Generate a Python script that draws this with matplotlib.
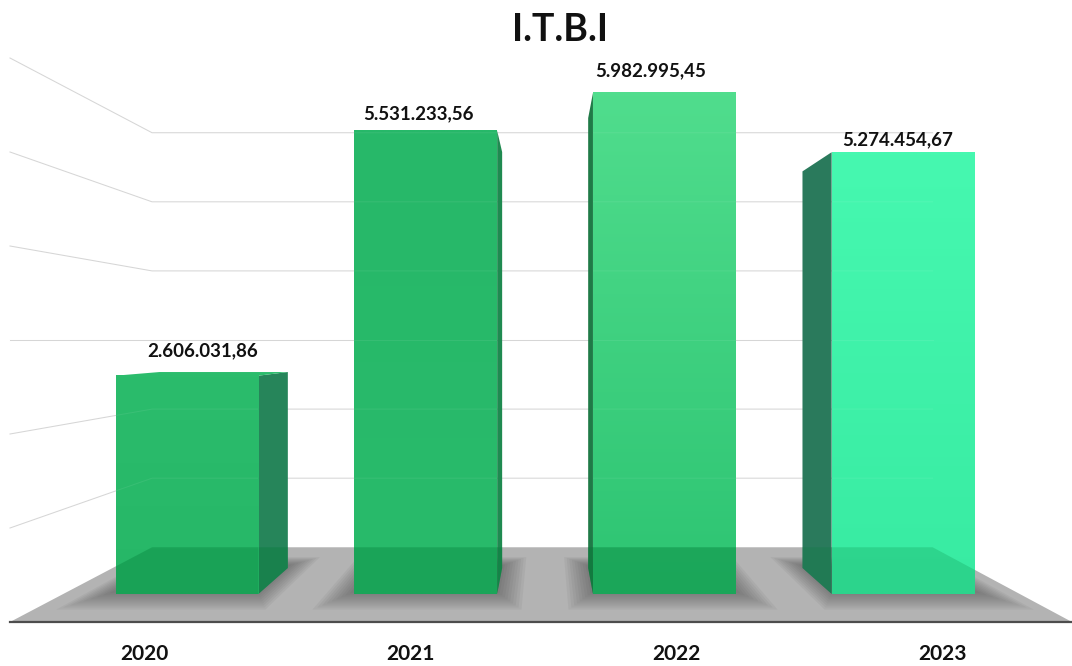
import numpy as np
import matplotlib
matplotlib.use("Agg")
import matplotlib.pyplot as plt
from matplotlib.colors import to_rgb
from matplotlib.patches import Polygon

anos = ["2020", "2021", "2022", "2023"]
valores = [2606031.86, 5531233.56, 5982995.45, 5274454.67]
rotulos = ["2.606.031,86", "5.531.233,56", "5.982.995,45", "5.274.454,67"]
grade = [0, 1000000, 2000000, 3000000, 4000000, 5000000, 6000000]

# cor de cada barra (topo, base, lateral)
cor_topo = ["#2BBC6C", "#27B869", "#50DD8D", "#46F8B0"]
cor_base = ["#26B767", "#29BB6B", "#2DC472", "#38EBA2"]
cor_lado = ["#26855A", "#1F8A50", "#1F7A47", "#2A7A5C"]
alfa_chao = [0.33, 0.33, 0.4, 0.2]
# deslocamento do rotulo em pixels
rot_dx = [16, -7, -14, -5]
rot_dy = [16, 8, 14, 4]

# ponto de fuga em coordenadas do grafico
vx, vy = 1.519, 3000000
esc_fundo = 0.735
esc_frente = 0.891
esc_tras = 0.80
meia = 0.302
sobe = 32000
anda = 0.015
abre = 1.009


def proj(x, v, s):
    return (vx + (x - vx) * s, vy + (v - vy) * s)


plt.rcParams["font.family"] = ["Lato", "DejaVu Sans"]
fig = plt.figure(figsize=(10.72, 6.66), dpi=100)
ax = fig.add_axes([10 / 1072, 44 / 666, 1062 / 1072, 564 / 666])

# linhas da grade: parede esquerda e parede do fundo
for g in grade[1:]:
    p0 = proj(-0.5, g, 1)
    p1 = proj(-0.5, g, esc_fundo)
    p2 = proj(3.5, g, esc_fundo)
    ax.plot([p0[0], p1[0], p2[0]], [p0[1], p1[1], p2[1]], color="#d6d6d6", lw=0.75, zorder=1, clip_on=False)

# chao
chao = [proj(-0.5, 0, 1), proj(3.5, 0, 1), proj(3.5, 0, esc_fundo), proj(-0.5, 0, esc_fundo)]
poly_chao = Polygon(chao, closed=True, facecolor="#b3b3b3", edgecolor="none", zorder=2)
ax.add_patch(poly_chao)

# sombras
for i in range(4):
    xc = vx + (i - vx) * abre + anda
    for t in np.linspace(1, 0, 10):
        dx = meia + 0.11 * t
        s1 = esc_frente + 0.065 * t
        s0 = esc_tras - 0.03 * t
        pts = [proj(xc - dx, 0, s1), proj(xc + dx, 0, s1), proj(xc + dx, 0, s0), proj(xc - dx, 0, s0)]
        sb = Polygon(pts, closed=True, facecolor="#303030", edgecolor="none", alpha=0.055, zorder=3)
        ax.add_patch(sb)
        sb.set_clip_path(poly_chao)

# barras
for i in range(4):
    xc = vx + (i - vx) * abre + anda
    v = valores[i] - sobe
    f_esq = proj(xc - meia, -sobe, esc_frente)
    f_dir = proj(xc + meia, -sobe, esc_frente)
    t_esq = proj(xc - meia, v, esc_frente)
    t_dir = proj(xc + meia, v, esc_frente)
    b_esq = proj(xc - meia, v, esc_tras)
    b_dir = proj(xc + meia, v, esc_tras)
    c_esq = proj(xc - meia, -sobe, esc_tras)
    c_dir = proj(xc + meia, -sobe, esc_tras)

    # lateral que aparece depende de que lado esta o ponto de fuga
    if xc < vx:
        lado = [f_dir, t_dir, b_dir, c_dir]
    else:
        lado = [f_esq, t_esq, b_esq, c_esq]
    pl = Polygon(lado, closed=True, facecolor=cor_lado[i], edgecolor="none", zorder=4)
    ax.add_patch(pl)

    # tampa, so aparece abaixo do ponto de fuga
    if valores[i] < vy:
        ax.add_patch(Polygon([t_esq, t_dir, b_dir, b_esq], closed=True, facecolor=cor_topo[i], edgecolor="none", zorder=4))

    # frente com degrade
    g = np.linspace(0, 1, 64)[:, None]
    img = np.array(to_rgb(cor_topo[i])) * (1 - g) + np.array(to_rgb(cor_base[i])) * g
    im = ax.imshow(img[:, None, :].reshape(64, 1, 3), extent=[t_esq[0], t_dir[0], f_esq[1], t_esq[1]],
                   aspect="auto", interpolation="bilinear", zorder=5)

    # chao visto atraves da barra
    for face, z in [(Polygon([f_esq, f_dir, t_dir, t_esq], closed=True, transform=ax.transData), 6), (pl, 6)]:
        esc = Polygon(chao, closed=True, facecolor="#007a35", edgecolor="none", alpha=alfa_chao[i], zorder=z)
        ax.add_patch(esc)
        esc.set_clip_path(face)

    # grade vista atraves da barra
    frente = Polygon([f_esq, f_dir, t_dir, t_esq], closed=True, transform=ax.transData)
    for g2 in grade[1:]:
        p0 = proj(-0.5, g2, 1)
        p1 = proj(-0.5, g2, esc_fundo)
        p2 = proj(3.5, g2, esc_fundo)
        ln, = ax.plot([p0[0], p1[0], p2[0]], [p0[1], p1[1], p2[1]], color="white", lw=0.75, alpha=0.07, zorder=7)
        ln.set_clip_path(frente)

    topo = proj(xc, v, esc_frente)
    ax.annotate(rotulos[i], xy=topo, xytext=(rot_dx[i] * 0.72, rot_dy[i] * 0.72), textcoords="offset points",
                ha="center", va="bottom", fontsize=13.5, fontweight="bold", color="#111111", zorder=8,
                annotation_clip=False)

ax.set_xlim(-0.5, 3.5)
ax.set_ylim(0, 6000000)
ax.patch.set_visible(False)
ax.set_xticks([0.005 + i * 1.003 for i in range(4)])
ax.set_xticklabels(anos, fontsize=15, fontweight="bold", color="#111111")
ax.set_yticks([])
ax.tick_params(axis="x", length=0, pad=16)
for lado_eixo in ["top", "left", "right"]:
    ax.spines[lado_eixo].set_visible(False)
ax.spines["bottom"].set_color("#4d4d4d")
ax.spines["bottom"].set_linewidth(1.6)
ax.spines["bottom"].set_zorder(9)

ax.set_title("I.T.B.I", x=0.518, pad=12, fontsize=27, fontweight="bold", color="#111111")

plt.savefig("out.png", dpi=100)
